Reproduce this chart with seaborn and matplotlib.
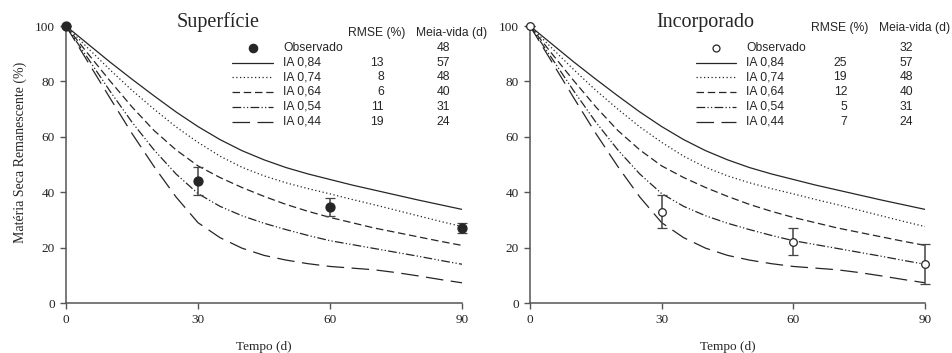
import matplotlib
matplotlib.use("Agg")
import matplotlib.pyplot as plt
from matplotlib.lines import Line2D
import pandas as pd
import seaborn as sns

# Model curves (same in both panels)
tempo = [0, 5, 10, 15, 20, 25, 30, 35, 40, 45, 50, 55, 60, 65, 70, 75, 80, 85, 90]
ia_084 = [100, 93.5, 87, 80.8, 74.8, 69, 63.7, 59, 55, 51.7, 48.9, 46.6, 44.6,
          42.6, 40.8, 39, 37.2, 35.5, 33.8]
ia_074 = [100, 92, 84.2, 76.8, 70, 63.6, 58, 53, 49, 45.9, 43.4, 41.3, 39.4,
          37.4, 35.5, 33.5, 31.5, 29.5, 27.6]
ia_064 = [100, 90, 80.2, 70.8, 62.3, 55.3, 49.5, 45.3, 41.7, 38.5, 35.6, 33.1, 30.9,
          29, 27.1, 25.5, 23.9, 22.3, 20.8]
ia_054 = [100, 88.3, 76.5, 65.3, 55.3, 46.6, 39.5, 34.9, 31.5, 28.8, 26.5, 24.4, 22.5,
          21.1, 19.7, 18.3, 16.9, 15.4, 14]
ia_044 = [100, 87, 74, 61.2, 49.3, 38.3, 29, 23.6, 19.8, 17.2, 15.5, 14.2, 13.2,
          12.6, 12, 11, 9.8, 8.5, 7.3]

ia_labels = ["IA 0,84", "IA 0,74", "IA 0,64", "IA 0,54", "IA 0,44"]

# Observed data
obs_tempo = [0, 30, 60, 90]
sup_obs = [100, 44, 34.7, 27.1]
sup_err = [0, 5, 3.2, 1.9]
inc_obs = [100, 33, 22.2, 14.2]
inc_err = [0, 6, 5, 7.2]

# Legend table values
sup_rmse = ["13", "8", "6", "11", "19"]
sup_meia = ["48", "57", "48", "40", "31", "24"]
inc_rmse = ["25", "19", "12", "5", "7"]
inc_meia = ["32", "57", "48", "40", "31", "24"]

dash_map = {
    "IA 0,84": "",
    "IA 0,74": (1, 2),
    "IA 0,64": (6, 3),
    "IA 0,54": (7, 1.8, 1, 1.8, 1, 1.8),
    "IA 0,44": (14, 6),
}

curves = pd.DataFrame({
    "Tempo": tempo * 5,
    "MS": ia_084 + ia_074 + ia_064 + ia_054 + ia_044,
    "IA": [lab for lab in ia_labels for _ in tempo],
})

sns.set_style("ticks")
plt.rcParams["font.family"] = ["Liberation Serif", "DejaVu Serif"]
plt.rcParams["axes.edgecolor"] = "#555555"
plt.rcParams["xtick.color"] = "#555555"
plt.rcParams["ytick.color"] = "#555555"
plt.rcParams["xtick.labelcolor"] = "#222222"
plt.rcParams["ytick.labelcolor"] = "#222222"

LINE_C = "#262626"
SANS = ["Liberation Sans", "DejaVu Sans"]

fig = plt.figure(figsize=(9.52, 3.53), dpi=100)
ax1 = fig.add_axes([0.0693, 0.1416, 0.416, 0.7847])
ax2 = fig.add_axes([0.5567, 0.1416, 0.415, 0.7847])


def draw_panel(ax, title, title_x, obs, err, filled, rmse, meia, header_y):
    sns.lineplot(data=curves, x="Tempo", y="MS", style="IA", dashes=dash_map,
                 color=LINE_C, linewidth=0.9, legend=False, ax=ax)
    ax.errorbar(obs_tempo, obs, yerr=err, fmt="o", ms=6.5 if filled else 5.5,
                mfc=LINE_C if filled else "white", mec=LINE_C, mew=0.9,
                ecolor="#444444", elinewidth=1.1, capsize=3.5, capthick=1.1,
                clip_on=False, zorder=5)

    ax.set_xlim(0, 90)
    ax.set_ylim(0, 100)
    ax.set_xticks([0, 30, 60, 90])
    ax.set_yticks([0, 20, 40, 60, 80, 100])
    ax.tick_params(direction="out", length=4, width=1, labelsize=9.5, pad=4)
    for s in ["left", "bottom"]:
        ax.spines[s].set_linewidth(1.1)
    sns.despine(ax=ax)
    ax.set_xlabel("Tempo (d)", fontsize=9.5, labelpad=11)
    ax.set_ylabel("")

    # panel title
    ax.text(title_x, 1.014, title, transform=ax.transAxes, fontsize=14.5,
            ha="center", va="center")

    # legend table
    tr = ax.transAxes
    ax.text(0.785, header_y, "RMSE (%)", transform=tr, fontsize=8.7,
            family=SANS, ha="center", va="center")
    ax.text(0.974, header_y, "Meia-vida (d)", transform=tr, fontsize=8.7,
            family=SANS, ha="center", va="center")
    rows_y = [0.921, 0.868, 0.815, 0.762, 0.708, 0.654]
    # Observado row
    ax.add_line(Line2D([0.472], [rows_y[0]], transform=tr, marker="o",
                       ms=6 if filled else 5, mfc=LINE_C if filled else "white",
                       mec=LINE_C, mew=0.9, ls="none", clip_on=False))
    ax.text(0.548, rows_y[0], "Observado", transform=tr, fontsize=8.7,
            family=SANS, va="center")
    ax.text(0.953, rows_y[0], meia[0], transform=tr, fontsize=8.7,
            family=SANS, ha="center", va="center")
    for i, lab in enumerate(ia_labels):
        y = rows_y[i + 1]
        ln = Line2D([0.42, 0.522], [y, y], transform=tr, color=LINE_C,
                    lw=0.9, clip_on=False)
        if dash_map[lab]:
            ln.set_dashes(dash_map[lab])
        ax.add_line(ln)
        ax.text(0.548, y, lab, transform=tr, fontsize=8.7, family=SANS, va="center")
        ax.text(0.803, y, rmse[i], transform=tr, fontsize=8.7, family=SANS,
                ha="right", va="center")
        ax.text(0.953, y, meia[i + 1], transform=tr, fontsize=8.7, family=SANS,
                ha="center", va="center")


draw_panel(ax1, "Superfície", 0.384, sup_obs, sup_err, True, sup_rmse, sup_meia, 0.975)
draw_panel(ax2, "Incorporado", 0.443, inc_obs, inc_err, False, inc_rmse, inc_meia, 0.992)

fig.text(0.021, 0.567, "Matéria Seca Remanescente (%)", rotation=90,
         fontsize=10, ha="center", va="center")

fig.savefig("out.png", dpi=100)
